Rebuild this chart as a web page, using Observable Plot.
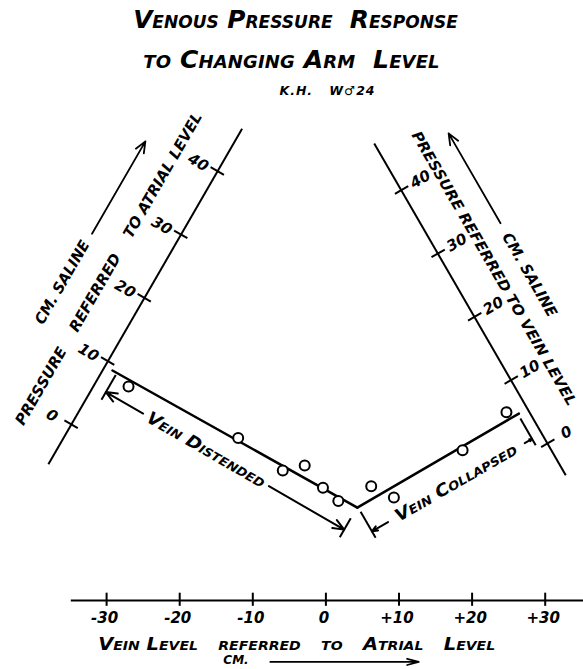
<!DOCTYPE html>
<html>
<head>
<meta charset="utf-8">
<script src="https://cdn.jsdelivr.net/npm/d3@7"></script>
<script src="https://cdn.jsdelivr.net/npm/@observablehq/plot@0.6"></script>
<style>
  body { margin: 0; background: #fff; }
  #wrap { width: 583px; height: 669px; position: relative; overflow: hidden; font-family: "DejaVu Sans", sans-serif; color: #000; background: #fff; }
  .t { position: absolute; left: 0; width: 583px; text-align: center; font-style: italic; font-weight: bold; font-variant: small-caps; white-space: pre; box-sizing: border-box; }
  #t1 { top: 5px; font-size: 24.8px; line-height: 30px; letter-spacing: 0px; padding-left: 8px; }
  #t2 { top: 45px; font-size: 25px; line-height: 30px; letter-spacing: 0.15px; }
  #t3 { top: 83px; font-size: 12.5px; line-height: 16px; padding-left: 72px; font-variant: normal; letter-spacing: 1px; }
  #chart { position: absolute; top: 96px; left: 0; }
</style>
</head>
<body>
<div id="wrap">
  <div class="t" id="t1">Venous Pressure&#160; Response</div>
  <div class="t" id="t2">to Changing Arm&#160; Level</div>
  <div class="t" id="t3">K.H.&#160;&#160; W♂24</div>
  <div id="chart"></div>
</div>
<script>
// ---------------- data ----------------
// observations: vein level referred to atrial level (cm) and pressure referred to vein level (cm saline)
const veinLevel    = [-27.0, -12.0, -5.9, -2.9, -0.4, 1.7, 6.2, 9.3, 18.7, 24.7];
const pressureVein = [ 35.4,  21.8, 14.9, 14.0, 10.1, 7.5, 7.0, 4.1,  5.0,  6.5];

// fitted line, vein distended: pressure referred to atrial level
const distendedLevel    = [-29.2, 4.3];
const distendedPressure = [9.2, 9.7];
// fitted line, vein collapsed: pressure referred to vein level
const collapsedLevel    = [4.3, 26.4];
const collapsedPressure = [5.4, 5.5];

// axes
const pressureTicks   = [0, 10, 20, 30, 40];
const levelTicks      = [-30, -20, -10, 0, 10, 20, 30];
const levelTickLabels = ["-30", "-20", "-10", "0", "+10", "+20", "+30"];

const leftTitle   = "PRESSURE\u00a0\u00a0\u00a0 REFERRED\u00a0\u00a0\u00a0 TO ATRIAL LEVEL";
const rightTitle  = "PRESSURE REFERRED TO VEIN LEVEL";
const salineLabel = "CM. SALINE";
const bottomTitle = "Vein Level\u00a0\u00a0 referred\u00a0\u00a0 to\u00a0\u00a0 Atrial\u00a0\u00a0 Level";
const unitLabel   = "CM.";
const distendedLabel = "Vein Distended";
const collapsedLabel = "Vein Collapsed";

// ---------------- geometry (layout) ----------------
const W = 583, TOP = 96, H = 669 - TOP;
const K = 7.31;                       // px per cm
const OX = 325.4, OY = 570.9 - TOP;   // where level 0 / pressures 0 meet
const SQ = Math.sqrt(3) / 2;
const LEFT_OFF = 40.2, RIGHT_OFF = 35.0;   // distance of the oblique axes from origin
const AXIS_Y = -3.98;                       // height of the level axis

// oblique frame: x = vein level, pressure axes at 60 degrees
const fromLevelVein   = (h, pv) => ({x: h, y: (2 * pv + h) / (2 * SQ)});
const fromLevelAtrial = (h, pa) => ({x: h, y: (2 * pa - h) / (2 * SQ)});
const leftPt  = (p, off = 0) => ({x: -(LEFT_OFF + off) * SQ + 0.5 * p, y: (LEFT_OFF + off) * 0.5 + SQ * p});
const rightPt = (p, off = 0) => ({x: (RIGHT_OFF + off) * SQ - 0.5 * p, y: (RIGHT_OFF + off) * 0.5 + SQ * p});
const alongA = (pt, t) => ({x: pt.x + 0.5 * t, y: pt.y + SQ * t});
const alongV = (pt, t) => ({x: pt.x - 0.5 * t, y: pt.y + SQ * t});

const font = {fontFamily: "DejaVu Sans", fontWeight: "bold", fontStyle: "italic", fill: "black"};
const sc = {...font, fontVariant: "small-caps"};

const points = veinLevel.map((h, i) => fromLevelVein(h, pressureVein[i]));
const distLine = distendedLevel.map((h, i) => fromLevelAtrial(h, distendedPressure[i]));
const collLine = collapsedLevel.map((h, i) => fromLevelVein(h, collapsedPressure[i]));

// brackets
const DB = 6.2, CB = 1.6;
const dL = fromLevelAtrial(-30.1, DB), dR = fromLevelAtrial(2.5, DB);
const cL = fromLevelVein(6.3, CB), cR = fromLevelVein(28.2, CB);
const bracketTicks = [
  [alongA(dL, -1.2), alongA(dL, 2.7)],
  [alongA(dR, -1.2), alongA(dR, 1.8)],
  [alongV(cL, -1.0), alongV(cL, 3.1)],
  [alongV(cR, -1.0), alongV(cR, 3.2)]
];
const bracketArrows = [
  [fromLevelAtrial(-25.0, DB), dL],
  [fromLevelAtrial(-7.8, DB), dR],
  [fromLevelVein(8.5, CB), cL],
  [fromLevelVein(27.2, CB), cR]
];

const seg = {x1: d => d[0].x, y1: d => d[0].y, x2: d => d[1].x, y2: d => d[1].y};

const plot = Plot.plot({
  width: W, height: H, margin: 0,
  x: {domain: [-OX / K, (W - OX) / K], axis: null},
  y: {domain: [(OY - H) / K, OY / K], axis: null},
  style: {background: "transparent"},
  marks: [
    // left oblique axis (pressure referred to atrial level)
    Plot.link([[leftPt(-6.3), leftPt(46.7)]], {...seg, stroke: "black", strokeWidth: 2}),
    Plot.link(pressureTicks, {x1: p => leftPt(p, 1.1).x, y1: p => leftPt(p, 1.1).y, x2: p => leftPt(p, -1.0).x, y2: p => leftPt(p, -1.0).y, stroke: "black", strokeWidth: 2}),
    Plot.text(pressureTicks, {x: p => leftPt(p - 0.3, 2.9).x, y: p => leftPt(p - 0.3, 2.9).y, text: d => String(d), rotate: 30, fontSize: 15, ...font}),
    Plot.text([leftTitle], {x: leftPt(21, 6.2).x, y: leftPt(21, 6.2).y, text: d => d, rotate: -60, fontSize: 15, ...font}),
    Plot.text([salineLabel], {x: leftPt(16.2, 10.8).x, y: leftPt(16.2, 10.8).y, text: d => d, rotate: -60, fontSize: 15, ...font}),
    Plot.arrow([[leftPt(24, 10.6), leftPt(38.6, 10.6)]], {...seg, stroke: "black", strokeWidth: 1.8, headLength: 10, headAngle: 45}),

    // right oblique axis (pressure referred to vein level)
    Plot.link([[rightPt(-5.0), rightPt(47.4)]], {...seg, stroke: "black", strokeWidth: 2}),
    Plot.link(pressureTicks, {x1: p => rightPt(p, 1.1).x, y1: p => rightPt(p, 1.1).y, x2: p => rightPt(p, -1.0).x, y2: p => rightPt(p, -1.0).y, stroke: "black", strokeWidth: 2}),
    Plot.text(pressureTicks, {x: p => rightPt(p, 3.0).x, y: p => rightPt(p, 3.0).y, text: d => String(d), rotate: -30, fontSize: 15, ...font}),
    Plot.text([rightTitle], {x: rightPt(24.4, 5.6).x, y: rightPt(24.4, 5.6).y, text: d => d, rotate: 60, fontSize: 14.5, ...font}),
    Plot.text([salineLabel], {x: rightPt(21.2, 9.4).x, y: rightPt(21.2, 9.4).y, text: d => d, rotate: 60, fontSize: 15, ...font}),
    Plot.arrow([[rightPt(29.3, 9.5), rightPt(43.5, 9.5)]], {...seg, stroke: "black", strokeWidth: 1.8, headLength: 10, headAngle: 45}),

    // level axis
    Plot.link([[{x: -34.9, y: AXIS_Y}, {x: 36, y: AXIS_Y}]], {...seg, stroke: "black", strokeWidth: 2}),
    Plot.ruleX(levelTicks, {y1: AXIS_Y - 0.8, y2: AXIS_Y + 1.0, stroke: "black", strokeWidth: 2}),
    Plot.text(levelTicks, {x: d => d, y: AXIS_Y, dy: 18, dx: -2, text: (d, i) => levelTickLabels[i], fontSize: 15, ...font}),
    Plot.text([bottomTitle], {x: -4.0, y: AXIS_Y, dy: 44, text: d => d, fontSize: 18, ...sc}),
    Plot.text([unitLabel], {x: -12.3, y: AXIS_Y, dy: 60, text: d => d, fontSize: 12, ...font}),
    Plot.arrow([[{x: -7.6, y: AXIS_Y - 8.4}, {x: 12.7, y: AXIS_Y - 8.4}]], {...seg, stroke: "black", strokeWidth: 1.8, headLength: 10, headAngle: 30}),

    // fitted lines
    Plot.line(distLine, {x: "x", y: "y", stroke: "black", strokeWidth: 2.5}),
    Plot.line(collLine, {x: "x", y: "y", stroke: "black", strokeWidth: 2.5}),

    // brackets
    Plot.link(bracketTicks, {...seg, stroke: "black", strokeWidth: 2}),
    Plot.arrow(bracketArrows, {...seg, stroke: "black", strokeWidth: 2, headLength: 9, headAngle: 45}),
    Plot.text([distendedLabel], {x: fromLevelAtrial(-16.4, DB).x, y: fromLevelAtrial(-16.4, DB).y, text: d => d, rotate: 30, fontSize: 17, ...sc}),
    Plot.text([collapsedLabel], {x: fromLevelVein(17.8, CB).x, y: fromLevelVein(17.8, CB).y, text: d => d, rotate: -30, fontSize: 17, ...sc}),

    // observations
    Plot.dot(points, {x: "x", y: "y", r: 5, stroke: "black", strokeWidth: 2, fill: "white"})
  ]
});

// stretch hand-lettered labels to the lengths they have in the drawing
const lengths = new Map([[leftTitle, 358], [rightTitle, 314], [salineLabel, 94], [bottomTitle, 397], [distendedLabel, 134], [collapsedLabel, 138]]);
d3.select(plot).selectAll("text").each(function () {
  const len = lengths.get(this.textContent);
  if (len) d3.select(this).attr("textLength", len).attr("lengthAdjust", "spacingAndGlyphs");
});
document.getElementById("chart").appendChild(plot);
</script>
</body>
</html>
